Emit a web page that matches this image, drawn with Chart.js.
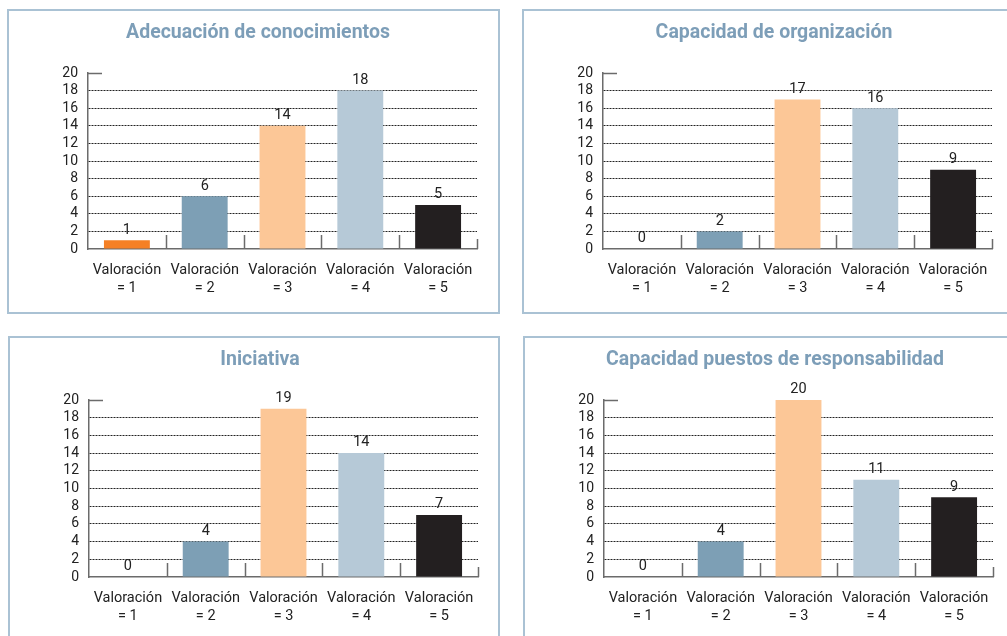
<!DOCTYPE html>
<html>
<head>
<meta charset="utf-8">
<script src="https://cdn.jsdelivr.net/npm/chart.js@4"></script>
<style>
  body { margin: 0; background: #fff; width: 1007px; height: 636px; overflow: hidden; position: relative; }
  .marco { position: absolute; border: 2px solid #aac2d4; box-sizing: border-box; }
  canvas { position: absolute; }
</style>
</head>
<body>
<script>
// datos
const categorias = [['Valoración', '= 1'], ['Valoración', '= 2'], ['Valoración', '= 3'], ['Valoración', '= 4'], ['Valoración', '= 5']];
const titulos = ['Adecuación de conocimientos', 'Capacidad de organización', 'Iniciativa', 'Capacidad puestos de responsabilidad'];
const valoresConocimientos = [1, 6, 14, 18, 5];
const valoresOrganizacion = [0, 2, 17, 16, 9];
const valoresIniciativa = [0, 4, 19, 14, 7];
const valoresResponsabilidad = [0, 4, 20, 11, 9];
const ejeMin = 0;
const ejeMax = 20;
const ejePaso = 2;
const colores = ['#f58025', '#7d9fb5', '#fcc797', '#b6c9d7', '#231f20'];

const fuente = 'Roboto, "Noto Sans", sans-serif';
const colorEje = '#6b6b6b';

// marcas extra: tope del eje, separadores de categorias y etiquetas de valor
const marcas = {
  id: 'marcas',
  afterDatasetsDraw(chart) {
    const ctx = chart.ctx;
    const area = chart.chartArea;
    const x = chart.scales.x;
    const y = chart.scales.y;
    ctx.save();
    ctx.strokeStyle = colorEje;
    ctx.lineWidth = 1.5;
    // tope del eje y
    const yTope = Math.round(y.getPixelForValue(ejeMax)) + 0.5;
    ctx.beginPath();
    ctx.moveTo(area.left, yTope);
    ctx.lineTo(area.left + 14, yTope);
    ctx.stroke();
    // separadores
    const n = chart.data.labels.length;
    for (let i = 0; i < n; i++) {
      let bx, alto = 14;
      if (i < n - 1) {
        bx = (x.getPixelForValue(i) + x.getPixelForValue(i + 1)) / 2;
      } else {
        bx = area.right;
        alto = 10;
      }
      bx = Math.round(bx) + 0.5;
      ctx.beginPath();
      ctx.moveTo(bx, area.bottom);
      ctx.lineTo(bx, area.bottom - alto);
      ctx.stroke();
    }
    // etiquetas de valor
    ctx.fillStyle = '#222';
    ctx.font = '14.5px ' + fuente;
    ctx.textAlign = 'center';
    ctx.textBaseline = 'bottom';
    const meta = chart.getDatasetMeta(0);
    meta.data.forEach(function (barra, i) {
      ctx.fillText(String(chart.data.datasets[0].data[i]), barra.x, barra.y - 3);
    });
    ctx.restore();
  }
};

function crearGrafico(titulo, valores, panel) {
  const marco = document.createElement('div');
  marco.className = 'marco';
  marco.style.left = panel.x + 'px';
  marco.style.top = panel.y + 'px';
  marco.style.width = panel.w + 'px';
  marco.style.height = panel.h + 'px';
  document.body.appendChild(marco);

  const lienzo = document.createElement('canvas');
  lienzo.width = panel.w;
  lienzo.height = panel.h;
  lienzo.style.left = panel.x + 'px';
  lienzo.style.top = panel.y + 'px';
  document.body.appendChild(lienzo);

  const arriba = panel.ay - panel.y;
  const der = panel.w - (panel.ax2 - panel.x);
  const abajo = panel.h - (panel.ay2 - panel.y);
  // relleno izquierdo para que el titulo quede centrado donde esta en el original
  const relIzq = 2 * (panel.tc - panel.x) - panel.w + der;
  const izq = panel.ax - panel.x - relIzq;
  const altoTitulo = 19.5 * 1.2;

  new Chart(lienzo.getContext('2d'), {
    type: 'bar',
    data: {
      labels: categorias,
      datasets: [{
        data: valores,
        backgroundColor: colores,
        borderWidth: 0,
        categoryPercentage: 1,
        barPercentage: 0.59
      }]
    },
    options: {
      responsive: false,
      animation: false,
      devicePixelRatio: 1,
      layout: { padding: { left: relIzq, top: 0, right: der, bottom: 0 } },
      plugins: {
        legend: { display: false },
        tooltip: { enabled: false },
        title: {
          display: true,
          text: titulo,
          color: '#7d9eb8',
          font: { family: fuente, size: 19.5, weight: 'bold', lineHeight: 1.2 },
          padding: { top: 12, bottom: arriba - 12 - altoTitulo }
        }
      },
      scales: {
        x: {
          offset: true,
          grid: { display: false },
          border: { display: true, color: colorEje, width: 1.5 },
          ticks: {
            color: '#222',
            font: { family: fuente, size: 14.5, lineHeight: 1.28 },
            padding: 4,
            maxRotation: 0,
            autoSkip: false
          },
          afterFit(s) { s.height = abajo; }
        },
        y: {
          min: ejeMin,
          max: ejeMax,
          grid: {
            drawTicks: false,
            lineWidth: 1,
            color(c) {
              const v = c.tick ? c.tick.value : null;
              return (v === ejeMin || v === ejeMax) ? 'rgba(0,0,0,0)' : '#222';
            }
          },
          border: { display: true, color: colorEje, width: 1.5, dash: [2, 1] },
          ticks: {
            stepSize: ejePaso,
            autoSkip: false,
            color: '#222',
            font: { family: fuente, size: 14 },
            padding: 10
          },
          afterFit(s) { s.width = izq; }
        }
      }
    },
    plugins: [marcas]
  });
}

crearGrafico(titulos[0], valoresConocimientos, { x: 7, y: 9, w: 493, h: 305, ax: 88, ay: 73, ax2: 477, ay2: 249, tc: 258 });
crearGrafico(titulos[1], valoresOrganizacion, { x: 522, y: 9, w: 494, h: 305, ax: 603, ay: 73, ax2: 992, ay2: 249, tc: 774 });
crearGrafico(titulos[2], valoresIniciativa, { x: 8, y: 336, w: 492, h: 305, ax: 89, ay: 400, ax2: 478, ay2: 577, tc: 260 });
crearGrafico(titulos[3], valoresResponsabilidad, { x: 523, y: 336, w: 494, h: 305, ax: 604, ay: 400, ax2: 993, ay2: 577, tc: 775 });
</script>
</body>
</html>
